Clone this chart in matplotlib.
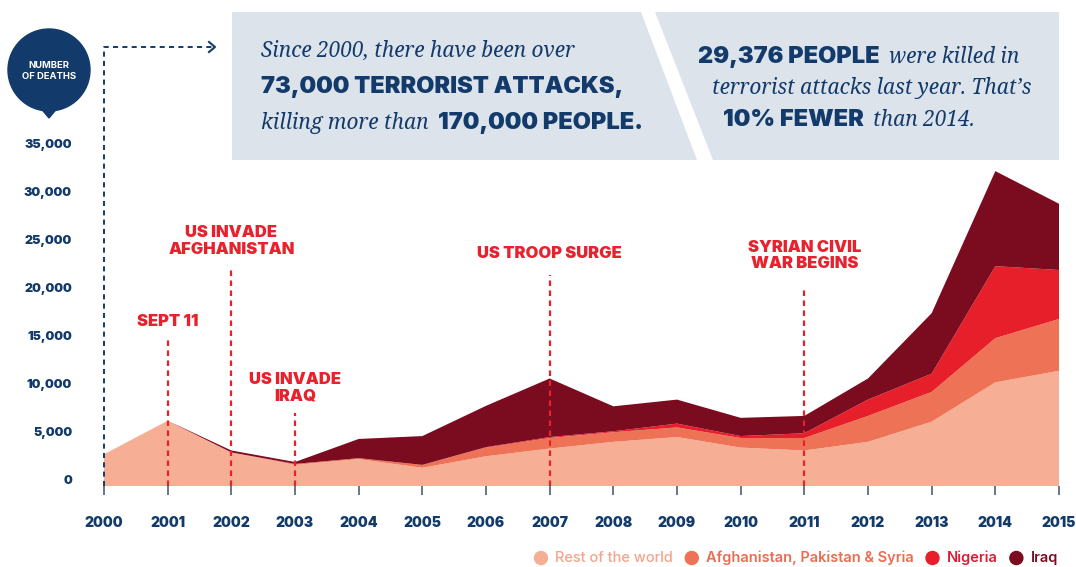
import matplotlib
matplotlib.use("Agg")
import matplotlib.pyplot as plt
from matplotlib.patches import Polygon, Circle

# dados (mortes por ano)
anos = list(range(2000, 2016))
resto_do_mundo = [3300, 6800, 3500, 2200, 2800, 1900, 3100, 3900, 4600, 5100, 4000, 3700, 4600, 6700, 10800, 12000]
afeg_paq_siria = [0, 0, 0, 100, 100, 300, 900, 1100, 1000, 1000, 1000, 1300, 2700, 3100, 4600, 5400]
nigeria = [0, 0, 0, 0, 0, 0, 50, 100, 100, 400, 200, 500, 1700, 1900, 7500, 5100]
iraque = [0, 0, 200, 200, 2000, 3000, 4300, 6100, 2600, 2500, 1900, 1800, 2200, 6300, 9900, 6900]

series_nomes = ["Rest of the world", "Afghanistan, Pakistan & Syria", "Nigeria", "Iraq"]
ticks_y = [0, 5000, 10000, 15000, 20000, 25000, 30000, 35000]

eventos_ano = [2001, 2002, 2003, 2007, 2011]
eventos_texto = ["SEPT 11", "US INVADE\nAFGHANISTAN", "US INVADE\nIRAQ", "US TROOP SURGE", "SYRIAN CIVIL\nWAR BEGINS"]
eventos_topo_linha = [15200, 22500, 7600, 22000, 20600]
eventos_topo_texto = [17100, 25500, 10200, 24200, 24000]

# cores
cores_area = ["#f6ae94", "#ee7356", "#e71f2a", "#7b0b1f"]
cores_legenda = ["#f4a48a", "#ea6c52", "#d81e34", "#7b0b1f"]
pesos_legenda = ["medium", "semibold", "semibold", "semibold"]
azul = "#123a6b"
vermelho = "#e8212d"
cinza_caixa = "#dce3ea"

negrito = dict(family=["Inter", "DejaVu Sans"], fontweight="black")
serifa = dict(family=["Noto Serif", "DejaVu Serif"], style="italic")

W, H = 1076, 567
fig = plt.figure(figsize=(W / 100, H / 100), dpi=100)
fig.patch.set_facecolor("white")

# eixo principal: 2000 em x=104px, 2015 em x=1059px, 0 em y=486px, 35000 em y=150px
ax = fig.add_axes([104 / W, (H - 486) / H, (1059 - 104) / W, (486 - 150) / H])
ax.patch.set_alpha(0)
ax.stackplot(anos, resto_do_mundo, afeg_paq_siria, nigeria, iraque,
             colors=cores_area, linewidth=0)
ax.set_xlim(2000, 2015)
ax.set_ylim(0, 35000)
for lado in ax.spines.values():
    lado.set_visible(False)

ax.set_xticks(anos)
ax.set_xticklabels([str(a) for a in anos], color=azul, fontsize=10, **negrito)
ax.tick_params(axis="x", length=6.5, width=1.1, color="#3a5668", pad=15)
ax.set_yticks([])
for v in ticks_y:
    ax.annotate(f"{v:,}", xy=(0, v), xycoords=("axes fraction", "data"),
                xytext=(-32, 5), textcoords="offset pixels",
                ha="right", va="center", color=azul, fontsize=9, **negrito)

# linhas dos eventos
for ano, texto, topo_linha, topo_texto in zip(eventos_ano, eventos_texto,
                                              eventos_topo_linha, eventos_topo_texto):
    ax.vlines(ano, 0, topo_linha, colors=vermelho, linewidth=1.6,
              linestyles=(0, (2.5, 2)), clip_on=False, zorder=3)
    ax.text(ano, topo_texto, texto, ha="center", va="center", color=vermelho,
            fontsize=11.9, linespacing=1.15, clip_on=False, **negrito)

# camada de decoracao em coordenadas de pixel
deco = fig.add_axes([0, 0, 1, 1])
deco.set_xlim(0, W)
deco.set_ylim(H, 0)
deco.axis("off")
deco.patch.set_alpha(0)
deco.set_zorder(5)

# selo "number of deaths"
deco.add_patch(Circle((49, 70), 41, color=azul))
deco.add_patch(Polygon([(39, 106), (59, 106), (49, 118)], color=azul))
deco.text(49, 71, "NUMBER\nOF DEATHS", ha="center", va="center", color="white",
          fontsize=6.8, linespacing=1.3, family=["Inter", "DejaVu Sans"], fontweight="bold")

# seta tracejada
deco.plot([104, 104, 212], [486, 47, 47], color=azul, linewidth=1.4,
          linestyle=(0, (2.6, 2.2)))
deco.plot([209, 215, 209], [42, 47, 52], color=azul, linewidth=1.5)

# caixas cinzas
deco.add_patch(Polygon([(232, 12), (641, 12), (697, 160), (232, 160)], color=cinza_caixa, lw=0))
deco.add_patch(Polygon([(655, 12), (1059, 12), (1059, 160), (713, 160)], color=cinza_caixa, lw=0))

renderer = fig.canvas.get_renderer()


def escrever_linha(x, y, partes, tamanho_negrito=17, tamanho_serifa=15):
    """Escreve pedacos de texto com estilos diferentes lado a lado."""
    for conteudo, tipo in partes:
        if tipo == "b":
            t = deco.text(x, y, conteudo, ha="left", va="baseline", color=azul,
                          fontsize=tamanho_negrito, **negrito)
        else:
            t = deco.text(x, y, conteudo, ha="left", va="baseline", color=azul,
                          fontsize=tamanho_serifa, **serifa)
        x = t.get_window_extent(renderer).x1 + 9


escrever_linha(261, 57, [("Since 2000, there have been over", "i")])
escrever_linha(261, 93, [("73,000 TERRORIST ATTACKS,", "b")])
escrever_linha(261, 129, [("killing more than", "i"), ("170,000 PEOPLE.", "b")])
escrever_linha(698, 63, [("29,376 PEOPLE", "b"), ("were killed in", "i")])
escrever_linha(712, 94, [("terrorist attacks last year. That\u2019s", "i")])
escrever_linha(723, 126, [("10% FEWER", "b"), ("than 2014.", "i")])

# legenda
x = 541
for nome, cor_area, cor_txt, peso in zip(series_nomes, cores_area, cores_legenda, pesos_legenda):
    deco.add_patch(Circle((x, 558), 6.5, color=cor_area))
    t = deco.text(x + 14, 558, nome, ha="left", va="center", color=cor_txt,
                  fontsize=10.5, family=["Inter", "DejaVu Sans"], fontweight=peso)
    x = t.get_window_extent(renderer).x1 + 19

fig.savefig("out.png", dpi=100, facecolor="white")
